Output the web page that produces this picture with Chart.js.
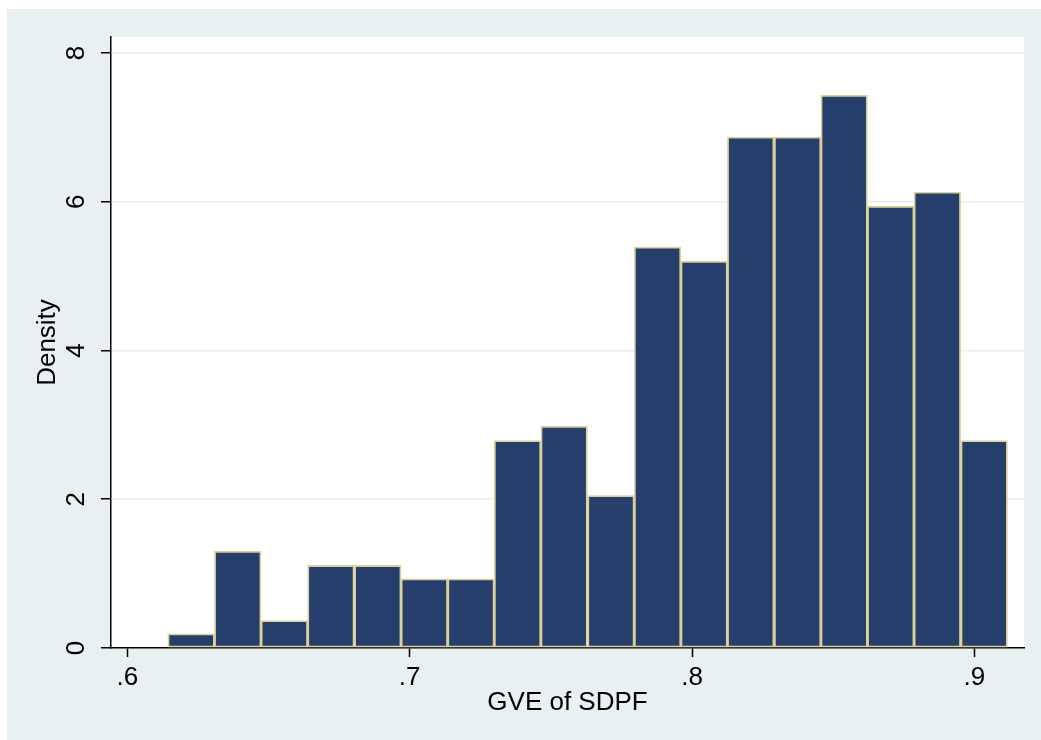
<!DOCTYPE html>
<html>
<head>
<meta charset="utf-8">
<script src="https://cdn.jsdelivr.net/npm/chart.js@4/dist/chart.umd.min.js"></script>
<style>
  html, body { margin: 0; padding: 0; background: #fff; }
  #panel { position: absolute; left: 7px; top: 9px; width: 1034px; height: 731px; background: #e8f0f2; }
  #histo { position: absolute; left: 0; top: 0; }
</style>
</head>
<body>
<div id="panel"></div>
<canvas id="histo" width="1041" height="740"></canvas>
<script>
  // bin centres (GVE of SDPF) and densities
  const binCenters = [0.6226, 0.6391, 0.6556, 0.6721, 0.6887, 0.7052, 0.7217, 0.7382, 0.7547,
                      0.7713, 0.7878, 0.8043, 0.8208, 0.8374, 0.8539, 0.8704, 0.8869, 0.9035];
  const density = [0.19, 1.30, 0.37, 1.11, 1.11, 0.93, 0.93, 2.79, 2.98,
                   2.05, 5.39, 5.20, 6.87, 6.87, 7.43, 5.94, 6.13, 2.79];
  const xTicks = [0.6, 0.7, 0.8, 0.9];
  const yTicks = [0, 2, 4, 6, 8];

  const FONT = 'Liberation Sans, Arial, sans-serif';

  // white plot region like Stata's
  const plotBg = {
    id: 'plotBg',
    beforeDraw(chart) {
      const { ctx, chartArea: a } = chart;
      ctx.save();
      ctx.fillStyle = '#ffffff';
      ctx.fillRect(a.left, a.top, a.right - a.left, a.bottom - a.top);
      ctx.restore();
    }
  };

  const ctx = document.getElementById('histo').getContext('2d');
  new Chart(ctx, {
    type: 'bar',
    data: {
      datasets: [{
        label: 'Density',
        data: binCenters.map((x, i) => ({ x: x, y: density[i] })),
        backgroundColor: '#263e6b',
        borderColor: '#d9d09a',
        borderWidth: 1.8,
        borderSkipped: false,
        categoryPercentage: 1,
        barPercentage: 1
      }]
    },
    options: {
      responsive: false,
      animation: false,
      layout: { padding: { left: 0, right: 17, top: 37, bottom: 0 } },
      plugins: {
        legend: { display: false },
        tooltip: { enabled: false }
      },
      scales: {
        x: {
          type: 'linear',
          offset: false,
          min: 0.5942,
          max: 0.9176,
          afterBuildTicks: s => { s.ticks = xTicks.map(v => ({ value: v })); },
          afterFit: s => { s.height = 92; },
          grid: { offset: false, drawOnChartArea: false, drawTicks: true, tickLength: 9, tickColor: '#000', tickWidth: 1.5 },
          border: { display: true, color: '#000', width: 1.5 },
          ticks: {
            padding: 5,
            color: '#000',
            font: { family: FONT, size: 26 },
            maxRotation: 0,
            autoSkip: false,
            callback: v => String(v).replace(/^0\./, '.')
          },
          title: {
            display: true,
            text: 'GVE of SDPF',
            color: '#000',
            font: { family: FONT, size: 26 },
            padding: { top: 0, bottom: 22 }
          }
        },
        y: {
          min: 0,
          max: 8.215,
          afterBuildTicks: s => { s.ticks = yTicks.map(v => ({ value: v })); },
          afterFit: s => { s.width = 111; },
          grid: {
            color: c => (c.tick && c.tick.value === 0) ? 'rgba(0,0,0,0)' : '#e6eef2',
            lineWidth: 1.5,
            drawTicks: true,
            tickLength: 10,
            tickColor: '#000',
            tickWidth: 1.5
          },
          border: { display: true, color: '#000', width: 1.5 },
          ticks: {
            padding: 17,
            color: '#000',
            font: { family: FONT, size: 26 },
            minRotation: 90,
            maxRotation: 90,
            crossAlign: 'center'
          },
          title: {
            display: true,
            text: 'Density',
            color: '#000',
            font: { family: FONT, size: 26 },
            padding: { top: 32, bottom: 0 }
          }
        }
      }
    },
    plugins: [plotBg]
  });
</script>
</body>
</html>
